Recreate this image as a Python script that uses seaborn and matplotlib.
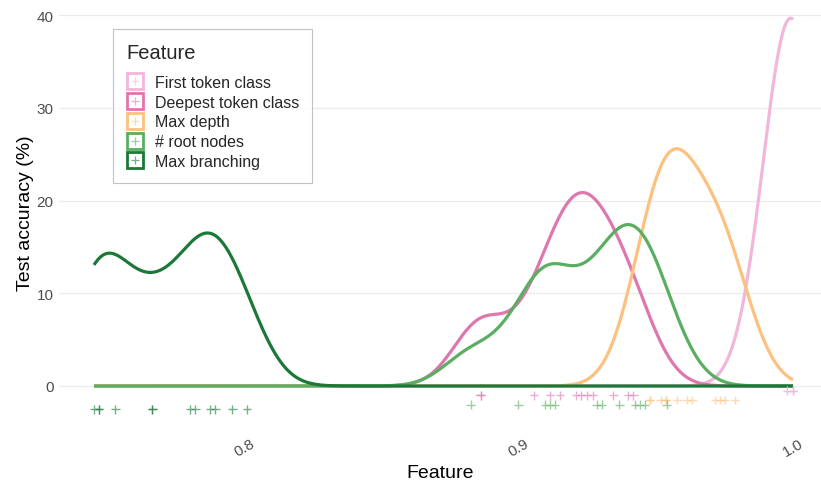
import numpy as np
import pandas as pd
import matplotlib
matplotlib.use("Agg")
import matplotlib.pyplot as plt
from matplotlib.lines import Line2D
from matplotlib.legend_handler import HandlerTuple
import seaborn as sns

# ---------------- data ----------------
features = ["First token class", "Deepest token class", "Max depth",
            "# root nodes", "Max branching"]
colors = ["#f1b6da", "#de77ae", "#fdc07e", "#5aae61", "#1b7837"]

first_token = [0.9978, 0.9978, 1.0, 1.0, 1.0]
deepest_token = [0.8860, 0.8860, 0.9055, 0.9113, 0.9150, 0.9208, 0.9226,
                 0.9247, 0.9269, 0.9344, 0.9399, 0.9417]
max_depth = [0.9478, 0.9478, 0.9517, 0.9536, 0.9536, 0.9578, 0.9613,
             0.9633, 0.9715, 0.9734, 0.9752, 0.9788]
root_nodes = [0.8824, 0.8997, 0.9095, 0.9113, 0.9131, 0.9284, 0.9302, 0.9366,
              0.9423, 0.9441, 0.9460, 0.9539]
max_branching = [0.7449, 0.7467, 0.7467, 0.7526, 0.7661, 0.7661, 0.7799,
                 0.7818, 0.7872, 0.7891, 0.7953, 0.8007]

series = [first_token, deepest_token, max_depth, root_nodes, max_branching]
rug_offsets = [-0.5, -1.0, -1.5, -2.0, -2.5]
x_ticks = [0.8, 0.9, 1.0]
x_tick_labels = ["0.8", "0.9", "1.0"]
y_ticks = [0, 10, 20, 30, 40]

df = pd.concat([pd.DataFrame({"value": v, "feature": f, "rug_y": o})
                for v, f, o in zip(series, features, rug_offsets)],
               ignore_index=True)

BW = 0.0100


def fixed_bw(kde):
    return BW / np.std(kde.dataset, ddof=1)


# ---------------- figure ----------------
sns.set_theme(style="white")
plt.rcParams["font.family"] = ["Liberation Sans", "DejaVu Sans"]

W, H = 821, 485
fig = plt.figure(figsize=(W / 100, H / 100), dpi=100)
ax_l, ax_r, ax_t, ax_b = 59, 821, 0, 427
ax = fig.add_axes([ax_l / W, (H - ax_b) / H, (ax_r - ax_l) / W, (ax_b - ax_t) / H])

palette = dict(zip(features, colors))
sns.kdeplot(data=df, x="value", hue="feature", hue_order=features,
            palette=palette, common_norm=False, common_grid=True, cut=0,
            bw_method=fixed_bw, gridsize=500, linewidth=2.3, legend=False, ax=ax)

# order lines so that later features are drawn on top
col_rgb = [matplotlib.colors.to_rgb(c) for c in colors]
for ln in ax.lines:
    c = matplotlib.colors.to_rgb(ln.get_color())
    idx = int(np.argmin([sum((a - b) ** 2 for a, b in zip(c, cc)) for cc in col_rgb]))
    ln.set_zorder(2 + idx * 0.1)
    ln.set_solid_capstyle("butt")

sns.scatterplot(data=df, x="value", y="rug_y", hue="feature", hue_order=features,
                palette=palette, marker="+", s=40, linewidth=1.0, alpha=0.6,
                legend=False, ax=ax, zorder=4)

# axes limits from pixel layout: 0.8->245px, 1.0->793px ; 0->387px, 40->16px
xs = (793 - 245) / 0.2
ax.set_xlim(0.8 - (245 - ax_l) / xs, 1.0 + (ax_r - 793) / xs)
ys = (387 - 16) / 40
ax.set_ylim(-(ax_b - 387) / ys, (387 - ax_t) / ys)

ax.set_xticks(x_ticks)
ax.set_xticklabels(x_tick_labels, rotation=30, ha="center")
ax.set_yticks(y_ticks)
ax.tick_params(axis="both", length=0, labelsize=11, labelcolor="#4d4d4d")
ax.tick_params(axis="x", pad=7)
ax.tick_params(axis="y", pad=4)
ax.grid(axis="y", color="#ebebeb", linewidth=0.9)
ax.grid(axis="x", visible=False)
ax.set_axisbelow(True)
for sp in ax.spines.values():
    sp.set_visible(False)

ax.set_xlabel("Feature", fontsize=14, color="black", labelpad=4)
ax.set_ylabel("Test accuracy (%)", fontsize=14, color="black", labelpad=2)

# legend
handles = []
for c in colors:
    sq = Line2D([], [], marker="s", markersize=11.8, markerfacecolor="white",
                markeredgecolor=c, markeredgewidth=2.0, linestyle="none")
    pl = Line2D([], [], marker="+", markersize=6, color=c, alpha=0.6,
                markeredgewidth=0.9, linestyle="none")
    handles.append((sq, pl))
leg = ax.legend(handles, features, title="Feature", loc="upper left",
                bbox_to_anchor=(113 / W, 1 - 182 / H, 199 / W, 152 / H),
                bbox_transform=fig.transFigure, mode="expand",
                borderaxespad=0, fancybox=False, frameon=True,
                handler_map={tuple: HandlerTuple(ndivide=1)},
                fontsize=11.5, title_fontsize=14.5, labelspacing=0.3,
                handlelength=1.0, handletextpad=0.75, borderpad=0.85)
leg._legend_box.align = "left"
leg._legend_box.sep = 9.5
leg.get_frame().set_edgecolor("#b3b3b3")
leg.get_frame().set_linewidth(0.8)

fig.savefig("out.png", dpi=100)
